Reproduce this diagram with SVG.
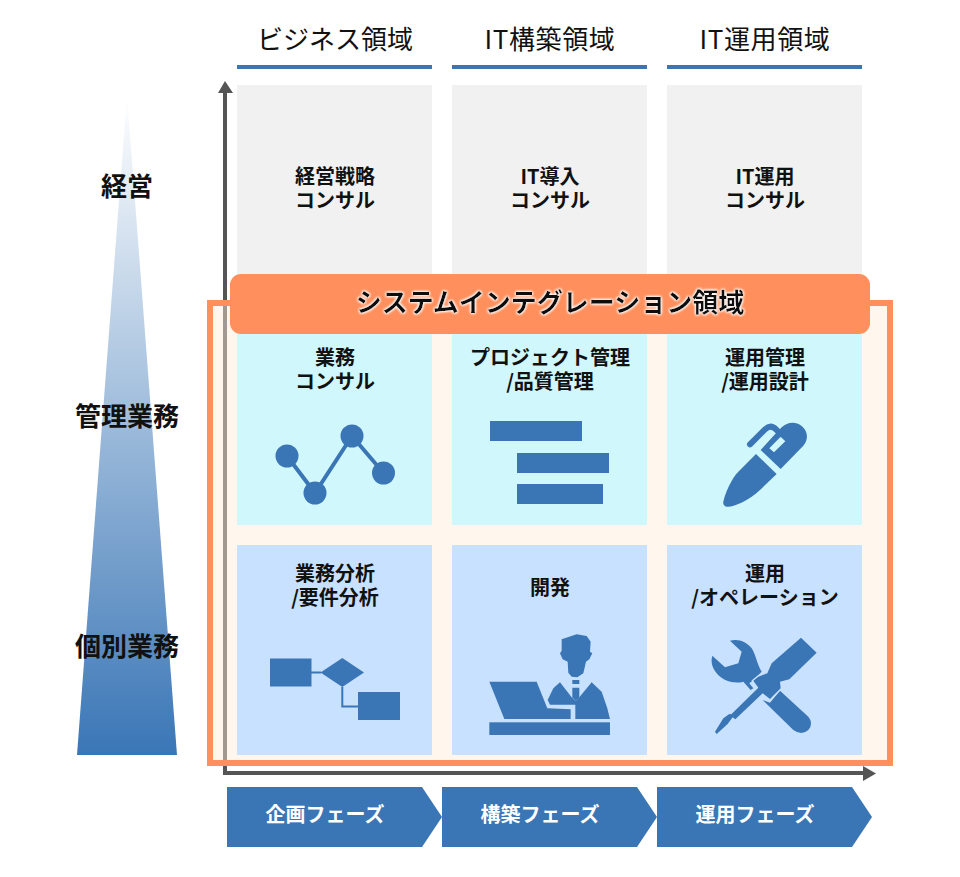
<svg xmlns="http://www.w3.org/2000/svg" width="960" height="877" viewBox="0 0 960 877">
<style>
text{font-family:"Noto Sans CJK JP","Noto Sans",sans-serif;text-anchor:middle;fill:#111}
.h{font-size:26px}
.it{letter-spacing:.6px}
.c{font-size:20px;font-weight:700}
.l{font-size:26px;font-weight:700}
.p{font-size:20px;font-weight:700;fill:#fff}
.b{font-size:26px;font-weight:700;filter:url(#glow)}
.i{fill:#3a76b6}
.g{fill:#f1f1f1}.t{fill:#d0f7fb}.s{fill:#c8e1ff}
.ax{stroke:#555;stroke-width:4;fill:none}
</style>
<defs>
<linearGradient id="tri" x1="0" y1="0" x2="0" y2="1"><stop offset="0" stop-color="#fff"/><stop offset="1" stop-color="#3a76b6"/></linearGradient>
<filter id="glow" x="-5%" y="-30%" width="110%" height="160%"><feGaussianBlur in="SourceAlpha" stdDeviation="1.6" result="b"/><feFlood flood-color="#fff"/><feComposite in2="b" operator="in" result="w"/><feMerge><feMergeNode in="w"/><feMergeNode in="w"/><feMergeNode in="w"/><feMergeNode in="SourceGraphic"/></feMerge></filter>
</defs>
<g id="connectors">
<path class="ax" d="M225 90V773H865"/>
<path fill="#555" d="M225 81L233 93H218ZM876 773.5L863 766V781Z"/>
</g>
<g id="hierarchy">
<path fill="url(#tri)" d="M127 95L177 755H77Z"/>
<text class="l" x="127" y="196">経営</text>
<text class="l" x="127" y="426">管理業務</text>
<text class="l" x="127" y="656">個別業務</text>
</g>
<g id="header-business"><text class="h" x="335" y="49">ビジネス領域</text><rect class="i" x="237" y="65" width="195" height="4"/></g>
<g id="header-build"><text class="h it" x="550" y="49">IT構築領域</text><rect class="i" x="452" y="65" width="195" height="4"/></g>
<g id="header-ops"><text class="h it" x="765" y="49">IT運用領域</text><rect class="i" x="667" y="65" width="195" height="4"/></g>
<g id="cell-strategy"><rect class="g" x="237" y="85" width="195" height="215"/><text class="c" x="335" y="184">経営戦略</text><text class="c" x="335" y="208">コンサル</text></g>
<g id="cell-it-intro"><rect class="g" x="452" y="85" width="195" height="215"/><text class="c" x="550" y="184">IT導入</text><text class="c" x="550" y="208">コンサル</text></g>
<g id="cell-it-ops"><rect class="g" x="667" y="85" width="195" height="215"/><text class="c" x="765" y="184">IT運用</text><text class="c" x="765" y="208">コンサル</text></g>
<g id="si-frame"><rect x="210" y="303" width="680" height="460" fill="#ffeed7" fill-opacity=".45" stroke="#ff8f5c" stroke-width="6"/></g>
<g id="cell-biz-consult"><rect class="t" x="237" y="330" width="195" height="195"/><text class="c" x="335" y="365">業務</text><text class="c" x="335" y="389">コンサル</text>
<path d="M287 456L315 493L352 436L383.500 473" fill="none" stroke="#3a76b6" stroke-width="4"/>
<circle class="i" cx="287" cy="456" r="11.500"/><circle class="i" cx="315" cy="493" r="11.500"/><circle class="i" cx="352" cy="436" r="11.500"/><circle class="i" cx="383.500" cy="473" r="11.500"/></g>
<g id="cell-pm"><rect class="t" x="452" y="330" width="195" height="195"/><text class="c" x="550" y="365">プロジェクト管理</text><text class="c" x="550" y="389">/品質管理</text>
<rect class="i" x="490" y="421" width="92" height="20"/><rect class="i" x="517" y="453" width="92" height="20"/><rect class="i" x="517" y="484" width="86" height="20"/></g>
<g id="cell-ops-mgmt"><rect class="t" x="667" y="330" width="195" height="195"/><text class="c" x="765" y="365">運用管理</text><text class="c" x="765" y="389">/運用設計</text>
<g transform="translate(660 400) scale(.3333)"><path class="i" d="M288 162L350 222L300 270C265 302 222 322 200 320Q188 318 190 305C195 280 215 235 235 215Z"/>
<path class="i" fill-rule="evenodd" d="M302 150L362 207L430 137C447 118 443 92 425 78C405 62 380 68 365 82L345 103ZM328 145L362 110L376 124L342 157Z"/>
<path d="M270 133L315 88Q332 72 348 88L362 102" fill="none" stroke="#3a76b6" stroke-width="18" stroke-linecap="round"/></g></g>
<g id="cell-analysis"><rect class="s" x="237" y="545" width="195" height="210"/><text class="c" x="335" y="581">業務分析</text><text class="c" x="335" y="605">/要件分析</text>
<rect class="i" x="270" y="658.500" width="41.500" height="28"/><path class="i" d="M320.500 672.500L342.300 658L364 672.500L342.300 687Z"/><rect class="i" x="358" y="692" width="42" height="28"/>
<path d="M311 672.500H321M342.300 687V706.500H358" fill="none" stroke="#3a76b6" stroke-width="2"/></g>
<g id="cell-dev"><rect class="s" x="452" y="545" width="195" height="210"/><text class="c" x="550" y="595">開発</text>
<g transform="translate(470 620) scale(.3333)" class="i">
<path d="M58 185H200L232 265L302 268V297H103Z"/><rect x="58" y="307" width="362" height="38"/>
<path d="M233 240L250 205L270 187L305 232L317 243L328 232L365 187L395 215L412 265L420 297H316V254H240Z"/>
<rect x="307" y="180" width="21" height="12"/><path d="M307 203H328V232L317 243L307 232Z"/>
<path d="M275 58L320 43L350 48L362 65L360 95L367 100L358 118L348 125L340 160L322 172L305 170L295 158L293 125L278 118L270 100L275 92Z"/></g></g>
<g id="cell-ops"><rect class="s" x="667" y="545" width="195" height="210"/><text class="c" x="765" y="581">運用</text><text class="c" x="765" y="605">/オペレーション</text>
<g transform="translate(690 620) scale(.3333)" class="i">
<path d="M120 62C145 55 170 65 185 85C198 105 200 130 215 155L190 180L178 190L190 205L182 210L160 185C135 192 100 185 80 160C65 140 62 125 67 107L105 142L145 130L155 95Z"/>
<path d="M218 240L240 248L270 212L355 290Q372 310 355 330Q335 348 310 330Z"/>
<path stroke="#c8e1ff" stroke-width="8" paint-order="stroke" d="M333 53L380 98L298 178L270 185L272 205L240 237L218 220L136 298L128 292L113 312L80 342L75 335L100 295L118 282L124 283L205 203L190 182L205 170L232 160L245 130Z"/></g></g>
<g id="si-band"><rect x="230" y="274" width="640" height="60" rx="11" fill="#ff8f5c"/><text class="b" x="550" y="312">システムインテグレーション領域</text></g>
<g id="phase-plan"><path class="i" d="M227 787H422L442 817L422 847H227Z"/><text class="p" x="325" y="822">企画フェーズ</text></g>
<g id="phase-build"><path class="i" d="M442 787H637L657 817L637 847H442Z"/><text class="p" x="540" y="822">構築フェーズ</text></g>
<g id="phase-ops"><path class="i" d="M657 787H852L872 817L852 847H657Z"/><text class="p" x="755" y="822">運用フェーズ</text></g>
</svg>
